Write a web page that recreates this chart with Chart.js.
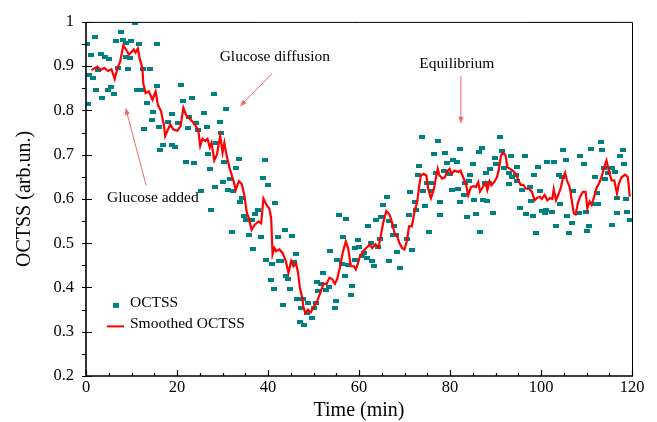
<!DOCTYPE html>
<html>
<head>
<meta charset="utf-8">
<script src="https://cdn.jsdelivr.net/npm/chart.js@4.4.1/dist/chart.umd.min.js"></script>
<style>
  html, body { margin: 0; padding: 0; background: #fff; }
  #wrap { width: 657px; height: 422px; }
</style>
</head>
<body>
<div id="wrap"><canvas id="chart" width="657" height="422"></canvas></div>
<script>
// measured OCTSS points (time in min, value in arb.un.)
const octssTime = [
  0.3, 0.4, 0.6, 1.2, 1.5, 2.0, 2.3, 2.6, 3.2, 3.5, 4.1, 4.8, 5.0, 5.4, 6.2, 6.7, 7.0, 7.7, 8.2, 8.7,
  8.9, 9.2, 9.7, 9.9, 10.7, 11.1, 11.7, 12.2, 12.5, 12.7, 13.3, 14.1, 14.5, 14.8, 15.5, 15.5, 16.1, 16.3, 16.9, 18.1,
  18.8, 19.0, 19.6, 20.3, 20.8, 21.4, 21.9, 22.5, 22.6, 23.2, 23.7, 24.1, 24.7, 25.3, 25.9, 26.6, 26.8, 27.3, 27.5, 28.1,
  28.4, 28.6, 29.4, 29.6, 30.1, 30.3, 30.8, 31.1, 31.6, 32.1, 32.3, 33.0, 33.6, 33.8, 34.3, 34.8, 35.2, 35.8, 36.5, 36.7,
  37.1, 37.7, 38.5, 38.8, 39.3, 39.5, 40.0, 40.6, 40.8, 41.3, 41.5, 42.2, 42.4, 42.9, 43.2, 43.7, 44.0, 44.4, 44.8, 45.2,
  45.7, 46.2, 46.3, 47.0, 47.2, 47.6, 47.9, 48.5, 48.9, 49.7, 50.0, 50.5, 50.7, 51.0, 51.7, 52.0, 52.7, 53.5, 53.6, 54.7,
  54.9, 55.2, 55.5, 56.3, 56.5, 56.9, 57.2, 57.5, 58.2, 58.5, 59.1, 59.1, 59.8, 60.1, 60.7, 61.0, 61.7, 62.0, 62.6, 62.8,
  63.2, 63.7, 64.1, 64.7, 64.8, 65.3, 66.2, 66.6, 66.6, 67.4, 67.8, 68.2, 68.3, 69.0, 70.5, 71.0, 71.1, 71.6, 72.2, 72.6,
  73.0, 73.2, 73.8, 74.1, 74.5, 74.9, 75.4, 75.8, 75.8, 76.5, 76.9, 77.4, 77.8, 77.9, 78.6, 78.9, 79.3, 80.1, 80.4, 80.7,
  81.5, 81.8, 82.2, 82.3, 83.0, 83.4, 83.7, 84.1, 84.4, 85.1, 85.3, 85.7, 86.3, 86.6, 87.0, 87.2, 87.6, 88.0, 88.1, 88.5,
  88.9, 89.4, 89.9, 90.2, 91.0, 91.4, 91.9, 92.9, 92.9, 93.3, 93.7, 94.4, 94.7, 94.8, 95.4, 95.8, 96.5, 96.8, 97.5, 97.7,
  98.2, 98.4, 99.0, 99.3, 99.8, 100.2, 100.9, 101.0, 101.3, 102.5, 102.8, 103.2, 104.0, 104.1, 104.6, 104.8, 105.5, 105.7, 106.1, 106.9,
  107.0, 108.4, 108.6, 109.4, 109.8, 110.2, 110.5, 111.0, 111.6, 111.9, 112.3, 112.6, 113.2, 113.4, 113.8, 114.0, 114.7, 115.5, 115.7, 116.3,
  116.7, 116.8, 117.3, 118.0, 118.2, 118.7, 118.8, 119.5
];
const octssValue = [
  0.951, 0.814, 0.881, 0.926, 0.873, 0.967, 0.846, 0.891, 0.928, 0.828, 0.921, 0.846, 0.917, 0.854, 0.836, 0.957, 0.895, 0.977, 0.959, 0.953,
  0.921, 0.893, 0.919, 0.957, 0.998, 0.846, 0.951, 0.846, 0.894, 0.759, 0.816, 0.894, 0.778, 0.796, 0.951, 0.855, 0.763, 0.711, 0.721, 0.774,
  0.791, 0.722, 0.718, 0.772, 0.858, 0.821, 0.684, 0.761, 0.785, 0.829, 0.682, 0.772, 0.755, 0.617, 0.794, 0.763, 0.702, 0.667, 0.576, 0.836,
  0.626, 0.727, 0.774, 0.750, 0.638, 0.684, 0.803, 0.620, 0.644, 0.526, 0.617, 0.669, 0.691, 0.594, 0.602, 0.562, 0.553, 0.518, 0.553, 0.486,
  0.567, 0.576, 0.515, 0.648, 0.689, 0.463, 0.631, 0.417, 0.454, 0.396, 0.591, 0.515, 0.460, 0.460, 0.361, 0.530, 0.425, 0.419, 0.396, 0.517,
  0.458, 0.475, 0.374, 0.323, 0.354, 0.374, 0.316, 0.343, 0.364, 0.332, 0.354, 0.364, 0.412, 0.393, 0.408, 0.432, 0.394, 0.402, 0.483, 0.354,
  0.370, 0.461, 0.564, 0.452, 0.515, 0.425, 0.555, 0.450, 0.383, 0.403, 0.490, 0.462, 0.508, 0.492, 0.472, 0.479, 0.466, 0.539, 0.501, 0.459,
  0.448, 0.553, 0.492, 0.510, 0.559, 0.586, 0.604, 0.550, 0.459, 0.519, 0.539, 0.518, 0.481, 0.443, 0.510, 0.564, 0.615, 0.484, 0.593, 0.575,
  0.655, 0.675, 0.740, 0.617, 0.584, 0.636, 0.526, 0.637, 0.617, 0.702, 0.658, 0.731, 0.564, 0.593, 0.664, 0.704, 0.682, 0.657, 0.620, 0.687,
  0.684, 0.622, 0.713, 0.593, 0.608, 0.635, 0.559, 0.640, 0.653, 0.680, 0.597, 0.566, 0.707, 0.526, 0.716, 0.597, 0.637, 0.658, 0.595, 0.637,
  0.667, 0.568, 0.693, 0.680, 0.740, 0.709, 0.671, 0.658, 0.633, 0.698, 0.649, 0.655, 0.673, 0.640, 0.579, 0.620, 0.696, 0.566, 0.626, 0.595,
  0.562, 0.653, 0.524, 0.673, 0.617, 0.573, 0.568, 0.575, 0.684, 0.571, 0.684, 0.539, 0.653, 0.588, 0.649, 0.711, 0.689, 0.562, 0.524, 0.546,
  0.617, 0.568, 0.696, 0.678, 0.571, 0.528, 0.539, 0.713, 0.588, 0.649, 0.613, 0.588, 0.729, 0.711, 0.671, 0.646, 0.658, 0.541, 0.671, 0.662,
  0.602, 0.568, 0.696, 0.711, 0.680, 0.600, 0.571, 0.553
];

// smoothed curve
const smoothTime = [
  1.2, 2.5, 3.2, 4.0, 4.8, 5.6, 6.3, 6.9, 7.5, 8.2, 8.9, 9.4, 10.0, 10.5, 10.9, 11.4, 11.8, 12.4, 12.6, 13.1,
  13.8, 14.6, 15.3, 15.8, 16.5, 17.1, 17.4, 17.9, 18.5, 19.2, 20.1, 20.8, 21.4, 22.1, 22.9, 23.6, 24.1, 24.7, 25.1, 25.6,
  26.2, 26.7, 27.2, 27.6, 28.2, 28.8, 29.2, 29.5, 30.0, 30.4, 30.9, 31.6, 32.4, 32.9, 33.6, 34.2, 34.8, 35.3, 35.8, 36.4,
  37.1, 37.9, 38.5, 39.0, 39.7, 40.3, 40.7, 41.0, 41.4, 41.8, 42.5, 43.2, 43.9, 44.5, 45.1, 45.6, 46.2, 46.6, 47.0, 47.5,
  47.8, 48.2, 48.8, 49.4, 50.0, 50.7, 51.4, 52.2, 52.9, 53.5, 54.1, 54.7, 55.2, 55.8, 56.4, 57.1, 57.6, 58.2, 58.9, 59.3,
  59.7, 60.1, 60.9, 61.6, 62.4, 62.9, 63.6, 64.3, 64.7, 65.3, 66.0, 66.7, 67.2, 67.8, 68.3, 68.9, 69.5, 70.0, 70.5, 71.0,
  71.6, 72.2, 72.8, 73.2, 73.6, 74.2, 74.8, 75.2, 75.8, 76.4, 76.8, 77.3, 77.7, 78.3, 78.9, 79.3, 79.9, 80.3, 81.0, 81.8,
  82.3, 82.9, 83.5, 84.0, 84.6, 85.2, 85.7, 86.2, 86.6, 87.2, 87.8, 88.2, 88.7, 89.1, 89.7, 90.3, 90.7, 91.2, 91.6, 92.2,
  92.6, 93.2, 93.8, 94.4, 94.9, 95.5, 96.1, 96.7, 97.4, 98.0, 98.6, 99.2, 99.8, 100.2, 100.8, 101.4, 102.0, 102.5, 102.8, 103.3,
  103.9, 104.4, 104.8, 105.3, 105.7, 106.3, 106.7, 107.2, 107.6, 108.1, 108.6, 109.2, 109.8, 110.2, 110.7, 111.1, 111.6, 112.2, 112.7, 113.3,
  113.9, 114.4, 114.9, 115.5, 116.1, 116.7, 117.1, 117.7, 118.5, 119.1, 119.5
];
const smoothValue = [
  0.891, 0.899, 0.891, 0.896, 0.889, 0.893, 0.871, 0.895, 0.910, 0.947, 0.936, 0.926, 0.932, 0.938, 0.931, 0.940, 0.917, 0.895, 0.861, 0.839,
  0.843, 0.824, 0.843, 0.813, 0.798, 0.768, 0.742, 0.754, 0.768, 0.757, 0.754, 0.765, 0.806, 0.787, 0.780, 0.772, 0.765, 0.754, 0.720, 0.736,
  0.731, 0.736, 0.716, 0.727, 0.687, 0.701, 0.727, 0.742, 0.705, 0.727, 0.698, 0.668, 0.642, 0.620, 0.640, 0.634, 0.609, 0.571, 0.556, 0.530,
  0.542, 0.549, 0.545, 0.601, 0.586, 0.578, 0.556, 0.475, 0.489, 0.482, 0.486, 0.478, 0.460, 0.433, 0.460, 0.448, 0.454, 0.433, 0.400, 0.378,
  0.355, 0.342, 0.350, 0.344, 0.355, 0.367, 0.385, 0.408, 0.408, 0.422, 0.419, 0.408, 0.419, 0.445, 0.478, 0.504, 0.489, 0.448, 0.448, 0.441,
  0.452, 0.467, 0.482, 0.489, 0.497, 0.489, 0.498, 0.491, 0.512, 0.545, 0.573, 0.565, 0.549, 0.523, 0.518, 0.500, 0.489, 0.486, 0.504, 0.538,
  0.538, 0.571, 0.594, 0.627, 0.653, 0.657, 0.653, 0.623, 0.602, 0.620, 0.642, 0.668, 0.653, 0.646, 0.649, 0.661, 0.668, 0.657, 0.664, 0.661,
  0.664, 0.649, 0.634, 0.608, 0.627, 0.629, 0.627, 0.638, 0.617, 0.627, 0.637, 0.620, 0.640, 0.631, 0.638, 0.649, 0.664, 0.698, 0.704, 0.699,
  0.672, 0.668, 0.664, 0.657, 0.646, 0.632, 0.632, 0.623, 0.623, 0.616, 0.597, 0.603, 0.605, 0.600, 0.609, 0.597, 0.602, 0.600, 0.622, 0.597,
  0.612, 0.627, 0.646, 0.659, 0.642, 0.627, 0.601, 0.567, 0.565, 0.590, 0.605, 0.616, 0.616, 0.579, 0.594, 0.587, 0.602, 0.625, 0.634, 0.649,
  0.672, 0.687, 0.664, 0.642, 0.642, 0.612, 0.634, 0.649, 0.655, 0.649, 0.605
];

const xTickLabels = ['0', '20', '40', '60', '80', '100', '120'];
const yTickLabels = ['0.2', '0.3', '0.4', '0.5', '0.6', '0.7', '0.8', '0.9', '1'];

const serif = "'Liberation Serif', 'Times New Roman', serif";
const teal = '#008080';
const red = '#ff0000';
const arrowColor = '#f26a6a';

// little 6x4 rectangle used as the point marker
function makeMarker(w, h) {
    const c = document.createElement('canvas');
    c.width = w;
    c.height = h;
    const g = c.getContext('2d');
    g.fillStyle = teal;
    g.fillRect(0, 0, w, h);
    return c;
}
const marker = makeMarker(6, 4);

// text notes with arrows, anchored in data units
const notes = [
    { text: 'Glucose added', x: 14.7, y: 0.602, from: [13.2, 0.631], to: [8.7, 0.806] },
    { text: 'Glucose diffusion', x: 41.5, y: 0.922, from: [40.9, 0.883], to: [33.8, 0.809] },
    { text: 'Equilibrium', x: 81.5, y: 0.906, from: [82.4, 0.878], to: [82.4, 0.770] }
];

function drawArrow(ctx, x1, y1, x2, y2) {
    const ang = Math.atan2(y2 - y1, x2 - x1);
    const len = 7, half = 2.6;
    ctx.beginPath();
    ctx.moveTo(x1, y1);
    ctx.lineTo(x2 - Math.cos(ang) * len * 0.7, y2 - Math.sin(ang) * len * 0.7);
    ctx.stroke();
    ctx.beginPath();
    ctx.moveTo(x2, y2);
    ctx.lineTo(x2 - Math.cos(ang) * len - Math.sin(ang) * half, y2 - Math.sin(ang) * len + Math.cos(ang) * half);
    ctx.lineTo(x2 - Math.cos(ang) * len + Math.sin(ang) * half, y2 - Math.sin(ang) * len - Math.cos(ang) * half);
    ctx.closePath();
    ctx.fill();
}

const framePlugin = {
    id: 'frame',
    afterDraw(chart) {
        const ctx = chart.ctx;
        const ca = chart.chartArea;
        const xs = chart.scales.x;
        const ys = chart.scales.y;
        ctx.save();

        // box
        ctx.strokeStyle = '#000';
        ctx.lineWidth = 1;
        ctx.beginPath();
        ctx.moveTo(ca.left, ca.top + 0.5);
        ctx.lineTo(ca.right + 0.5, ca.top + 0.5);
        ctx.lineTo(ca.right + 0.5, ca.bottom);
        ctx.stroke();
        ctx.lineWidth = 1.6;
        ctx.beginPath();
        ctx.moveTo(ca.left, ca.top);
        ctx.lineTo(ca.left, ca.bottom);
        ctx.lineTo(ca.right + 1, ca.bottom);
        ctx.stroke();

        // tick marks
        ctx.lineWidth = 1.2;
        ctx.beginPath();
        for (let v = 0; v <= 120; v += 5) {
            const px = Math.round(xs.getPixelForValue(v)) + 0.5;
            const len = v % 20 === 0 ? 6 : 3;
            ctx.moveTo(px, ca.bottom);
            ctx.lineTo(px, ca.bottom - len);
        }
        for (let i = 0; i <= 16; i++) {
            const v = 0.2 + i * 0.05;
            const py = Math.round(ys.getPixelForValue(v)) + 0.5;
            ctx.moveTo(ca.left - 4, py);
            ctx.lineTo(i % 2 === 0 ? ca.left + 6 : ca.left, py);
        }
        ctx.stroke();

        // axis titles
        ctx.fillStyle = '#000';
        ctx.textAlign = 'center';
        ctx.textBaseline = 'middle';
        ctx.font = '20px ' + serif;
        ctx.fillText('Time (min)', (ca.left + ca.right) / 2, 411);
        ctx.save();
        ctx.translate(25, (ca.top + ca.bottom) / 2);
        ctx.rotate(-Math.PI / 2);
        ctx.fillText('OCTSS (arb.un.)', 0, 0);
        ctx.restore();

        // notes + arrows
        ctx.font = '15.5px ' + serif;
        ctx.strokeStyle = arrowColor;
        ctx.fillStyle = arrowColor;
        ctx.lineWidth = 1;
        notes.forEach(n => {
            drawArrow(ctx,
                xs.getPixelForValue(n.from[0]), ys.getPixelForValue(n.from[1]),
                xs.getPixelForValue(n.to[0]), ys.getPixelForValue(n.to[1]));
        });
        ctx.fillStyle = '#000';
        notes.forEach(n => {
            ctx.fillText(n.text, xs.getPixelForValue(n.x), ys.getPixelForValue(n.y));
        });

        // legend, inside lower-left of the plot
        const lx = ca.left + 30;
        const ly1 = ca.top + 281;
        const ly2 = ca.top + 302;
        ctx.fillStyle = teal;
        ctx.fillRect(ca.left + 27, ly1 + 0, 6, 5);
        ctx.strokeStyle = red;
        ctx.lineWidth = 2;
        ctx.beginPath();
        ctx.moveTo(ca.left + 21, ly2 + 2.5);
        ctx.lineTo(ca.left + 38, ly2 + 2.5);
        ctx.stroke();
        ctx.fillStyle = '#000';
        ctx.textAlign = 'left';
        ctx.font = '15.5px ' + serif;
        ctx.fillText('OCTSS', lx + 14, ly1 + 0.5);
        ctx.fillText('Smoothed OCTSS', lx + 14, ly2 + 0.5);

        ctx.restore();
    }
};

const ctx = document.getElementById('chart');

new Chart(ctx, {
    type: 'scatter',
    data: {
        datasets: [
            {
                label: 'OCTSS',
                data: octssTime.map((t, i) => ({ x: t, y: octssValue[i] })),
                pointStyle: marker,
                pointRadius: 3,
                pointHoverRadius: 3,
                showLine: false,
                order: 2
            },
            {
                label: 'Smoothed OCTSS',
                data: smoothTime.map((t, i) => ({ x: t, y: smoothValue[i] })),
                showLine: true,
                borderColor: red,
                borderWidth: 2.2,
                pointRadius: 0,
                tension: 0,
                order: 1
            }
        ]
    },
    options: {
        responsive: false,
        devicePixelRatio: 1,
        animation: false,
        layout: {
            padding: { top: 18, right: 25, left: 0, bottom: 0 }
        },
        scales: {
            x: {
                type: 'linear',
                min: 0,
                max: 120,
                afterFit: s => { s.height = 46; },
                afterBuildTicks: s => {
                    s.ticks = xTickLabels.map(l => ({ value: Number(l) }));
                },
                grid: { display: false, drawTicks: false },
                border: { display: false },
                ticks: {
                    padding: 2,
                    color: '#000',
                    font: { family: serif, size: 16.5 },
                    maxRotation: 0,
                    callback: (v, i) => xTickLabels[i]
                }
            },
            y: {
                type: 'linear',
                min: 0.2,
                max: 1,
                afterFit: s => { s.width = 86; },
                afterBuildTicks: s => {
                    s.ticks = yTickLabels.map(l => ({ value: Number(l) }));
                },
                grid: { display: false, drawTicks: false },
                border: { display: false },
                ticks: {
                    padding: 12,
                    color: '#000',
                    font: { family: serif, size: 16.5 },
                    callback: (v, i) => yTickLabels[i]
                }
            }
        },
        plugins: {
            legend: { display: false },
            tooltip: { enabled: false }
        }
    },
    plugins: [framePlugin]
});
</script>
</body>
</html>
